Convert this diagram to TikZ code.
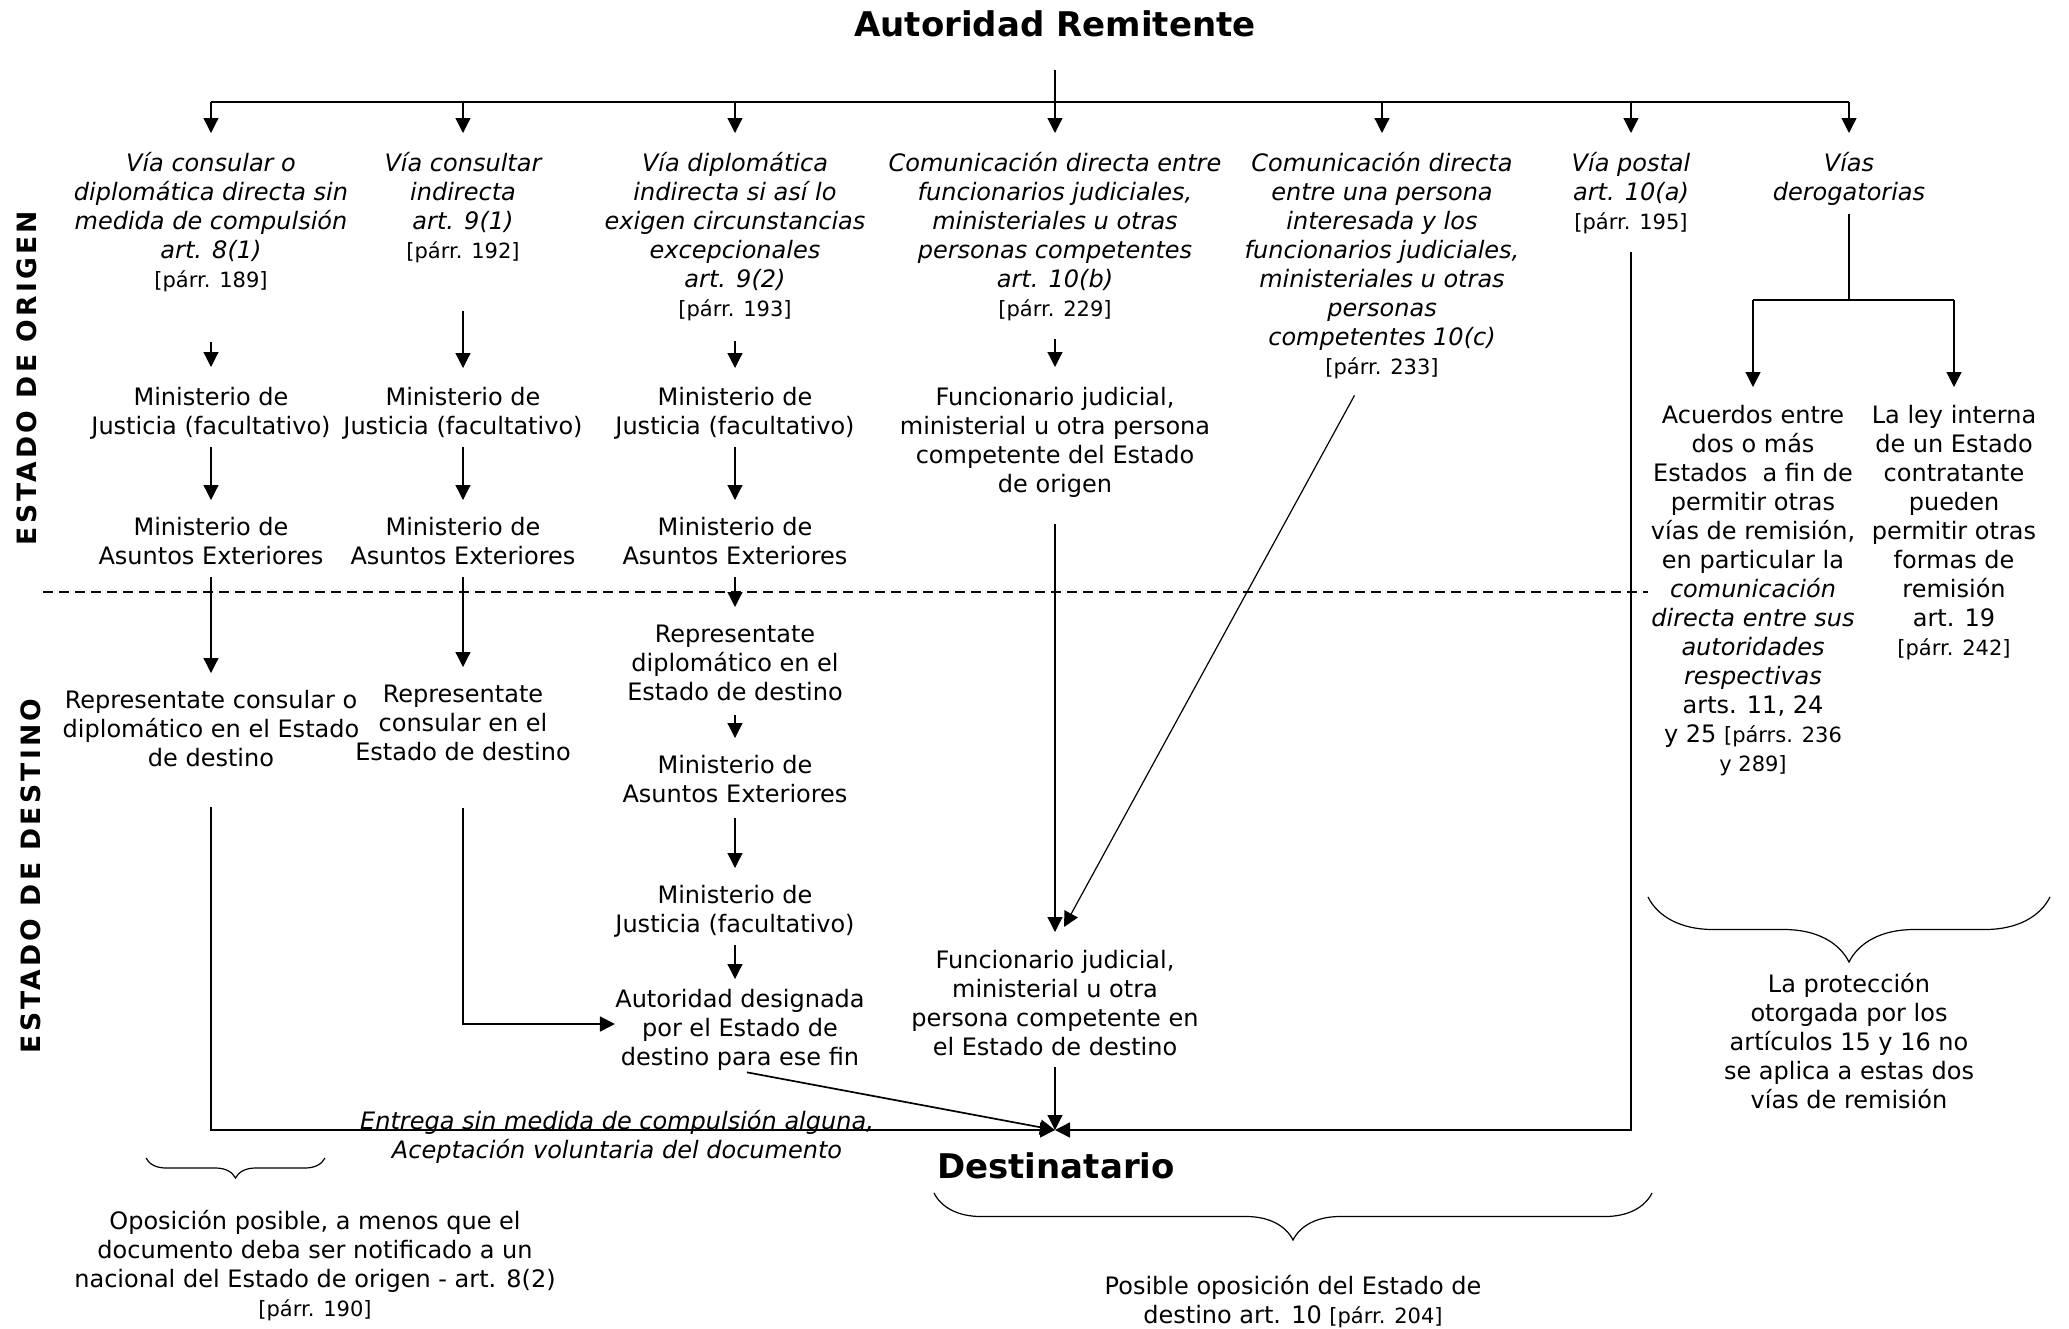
\documentclass[tikz,border=0pt]{standalone}
\usepackage{fontspec}
\setmainfont{DejaVu Sans}
\newfontfamily\sidefont[LetterSpace=12]{DejaVu Sans}
\usetikzlibrary{arrows.meta,decorations.pathreplacing,calc}
\newcommand\smt[1]{{\fontsize{10.5}{12.6}\selectfont\upshape #1}}
\tikzset{
  txt/.style={align=center, inner sep=0pt, anchor=north, font=\fontsize{12}{14.5}\selectfont},
  itx/.style={txt, font=\fontsize{12}{14.5}\selectfont\itshape},
  big/.style={inner sep=0pt, font=\fontsize{17}{20}\selectfont\bfseries},
  side/.style={inner sep=0pt, rotate=90, font=\sidefont\bfseries\fontsize{13.3}{16}\selectfont},
  ln/.style={line width=0.6pt},
  tk/.style={line width=0.85pt},
  arr/.style={ln, -{Triangle[length=7.5pt,width=7.5pt]}},
  dsh/.style={line width=0.9pt, dash pattern=on 5pt off 3pt},
  brc/.style={decorate, decoration={brace, mirror, amplitude=#1}, ln},
}
\begin{document}
\begin{tikzpicture}[x=0.5pt,y=-0.5pt]
\useasboundingbox (0,0) rectangle (2069,1329);

% titles
\node[big] (title) at (1055,24) {Autoridad Remitente};
\node[big] (dest) at (1056,1166) {Destinatario};
\node[side] (origen) at (27,378) {ESTADO DE ORIGEN};
\node[side] (destino) at (31,876) {ESTADO DE DESTINO};

% top row of channels
\node[itx] (c1) at (211,152) {Vía consular o\\diplomática directa sin\\medida de compulsión\\art. 8(1)\\\smt{[párr. 189]}};
\node[itx] (c2) at (463,152) {Vía consultar\\indirecta\\art. 9(1)\\\smt{[párr. 192]}};
\node[itx] (c3) at (735,152) {Vía diplomática\\indirecta si así lo\\exigen circunstancias\\excepcionales\\art. 9(2)\\\smt{[párr. 193]}};
\node[itx] (c4) at (1055,152) {Comunicación directa entre\\funcionarios judiciales,\\ministeriales u otras\\personas competentes\\art. 10(b)\\\smt{[párr. 229]}};
\node[itx] (c5) at (1382,152) {Comunicación directa\\entre una persona\\interesada y los\\funcionarios judiciales,\\ministeriales u otras\\personas\\competentes 10(c)\\\smt{[párr. 233]}};
\node[itx] (c6) at (1631,152) {Vía postal\\art. 10(a)\\\smt{[párr. 195]}};
\node[itx] (c7) at (1849,152) {Vías\\derogatorias};

% origin state
\node[txt] (j1) at (211,387) {Ministerio de\\Justicia (facultativo)};
\node[txt] (j2) at (463,387) {Ministerio de\\Justicia (facultativo)};
\node[txt] (j3) at (735,387) {Ministerio de\\Justicia (facultativo)};
\node[txt] (f4) at (1055,387) {Funcionario judicial,\\ministerial u otra persona\\competente del Estado\\de origen};
\node[txt] (e1) at (211,517) {Ministerio de\\Asuntos Exteriores};
\node[txt] (e2) at (463,517) {Ministerio de\\Asuntos Exteriores};
\node[txt] (e3) at (735,517) {Ministerio de\\Asuntos Exteriores};

% destination state
\node[txt] (r1) at (211,690) {Representate consular o\\diplomático en el Estado\\de destino};
\node[txt] (r2) at (463,685) {Representate\\consular en el\\Estado de destino};
\node[txt] (r3) at (735,625) {Representate\\diplomático en el\\Estado de destino};
\node[txt] (e3b) at (735,755) {Ministerio de\\Asuntos Exteriores};
\node[txt] (j3b) at (735,885) {Ministerio de\\Justicia (facultativo)};
\node[txt] (ad) at (740,989) {Autoridad designada\\por el Estado de\\destino para ese fin};
\node[txt] (f4b) at (1055,950) {Funcionario judicial,\\ministerial u otra\\persona competente en\\el Estado de destino};

% derogatory channels
\node[txt] (ra) at (1753,405) {Acuerdos entre\\dos o más\\Estados~~a fin de\\permitir otras\\vías de remisión,\\en particular la\\\textit{comunicación}\\\textit{directa entre sus}\\\textit{autoridades}\\\textit{respectivas}\\arts. 11, 24\\y 25 \smt{[párrs. 236}\\\smt{y 289]}};
\node[txt] (rb) at (1954,405) {La ley interna\\de un Estado\\contratante\\pueden\\permitir otras\\formas de\\remisión\\art. 19\\\smt{[párr. 242]}};

% notes
\node[itx] (ent) at (617,1110) {Entrega sin medida de compulsión alguna,\\Aceptación voluntaria del documento};
\node[txt] (prot) at (1849,973) {La protección\\otorgada por los\\artículos 15 y 16 no\\se aplica a estas dos\\vías de remisión};
\node[txt] (op1) at (315,1210) {Oposición posible, a menos que el\\documento deba ser notificado a un\\nacional del Estado de origen - art. 8(2)\\\smt{[párr. 190]}};
\node[txt] (op2) at (1293,1275) {Posible oposición del Estado de\\destino art. 10 \smt{[párr. 204]}};

% top distribution
\coordinate (hub) at (1055,102);
\draw[tk, shorten <=16pt] (title.south) -- (hub);
\draw[tk] (c1.north |- hub) -- (c7.north |- hub);
\foreach \n in {c1,c2,c3,c4,c5,c6,c7}
  \draw[arr, shorten >=9.5pt] (\n.north |- hub) -- (\n.north);

% column arrows
\draw[arr, shorten <=25pt, shorten >=10pt] (c1) -- (j1);
\draw[arr, shorten <=24pt, shorten >=9.5pt] (c2) -- (j2);
\draw[arr, shorten <=10pt, shorten >=9.5pt] (c3) -- (j3);
\draw[arr, shorten <=9pt, shorten >=10pt] (c4) -- (f4);
\foreach \a/\b in {j1/e1,j2/e2,j3/e3}
  \draw[arr, shorten <=3.5pt, shorten >=8.5pt] (\a) -- (\b);
\draw[arr, shorten <=6pt, shorten >=8.5pt] (e1) -- (r1);
\draw[arr, shorten <=6pt, shorten >=9pt] (e2) -- (r2);
\draw[arr, shorten <=6pt, shorten >=9pt] (e3) -- (r3);
\draw[arr, shorten <=6.5pt, shorten >=8.5pt] (r3) -- (e3b);
\draw[arr, shorten <=7.5pt, shorten >=8.5pt] (e3b) -- (j3b);
\draw[arr, shorten <=3.5pt, shorten >=5pt] (j3b.south) -- (j3b.south |- ad.north);
\draw[arr, shorten <=13pt, shorten >=9pt] (f4) -- (f4b);
\draw[arr] ([shift={(-27.5,16)}]c5.south) -- ([shift={(9,-23)}]f4b.north);

% to the addressee
\coordinate (meet) at (1055,1130);
\draw[arr, shorten <=5.5pt] (f4b) -- (meet);
\draw[arr, tk, shorten <=3.5pt] (ad.south) -- (meet);
\draw[arr, line width=0.75pt] ([yshift=-20pt]r1.south) |- (meet);
\draw[arr, line width=0.75pt] ([yshift=-9pt]c6.south) |- (meet);
\draw[arr, line width=0.75pt] ([yshift=-23pt]r2.south) |- ([yshift=3pt]ad.west);

% derogatory split
\coordinate (split) at (1849,300);
\draw[ln, shorten <=4pt] (c7) -- (split);
\draw[tk] (ra.north |- split) -- (rb.north |- split);
\draw[arr, shorten >=9pt] (ra.north |- split) -- (ra.north);
\draw[arr, shorten >=9pt] (rb.north |- split) -- (rb.north);

% border between states
\coordinate (dl) at (43,592);
\coordinate (dr) at (1648,592);
\draw[dsh] (dl) -- (dr);

% braces
\draw[brc=10pt] (146,1158) -- (325,1158);
\draw[brc=23.5pt] (934,1193) -- (1652,1193);
\draw[brc=32.5pt] (1648,897) -- (2050,897);
\end{tikzpicture}
\end{document}
